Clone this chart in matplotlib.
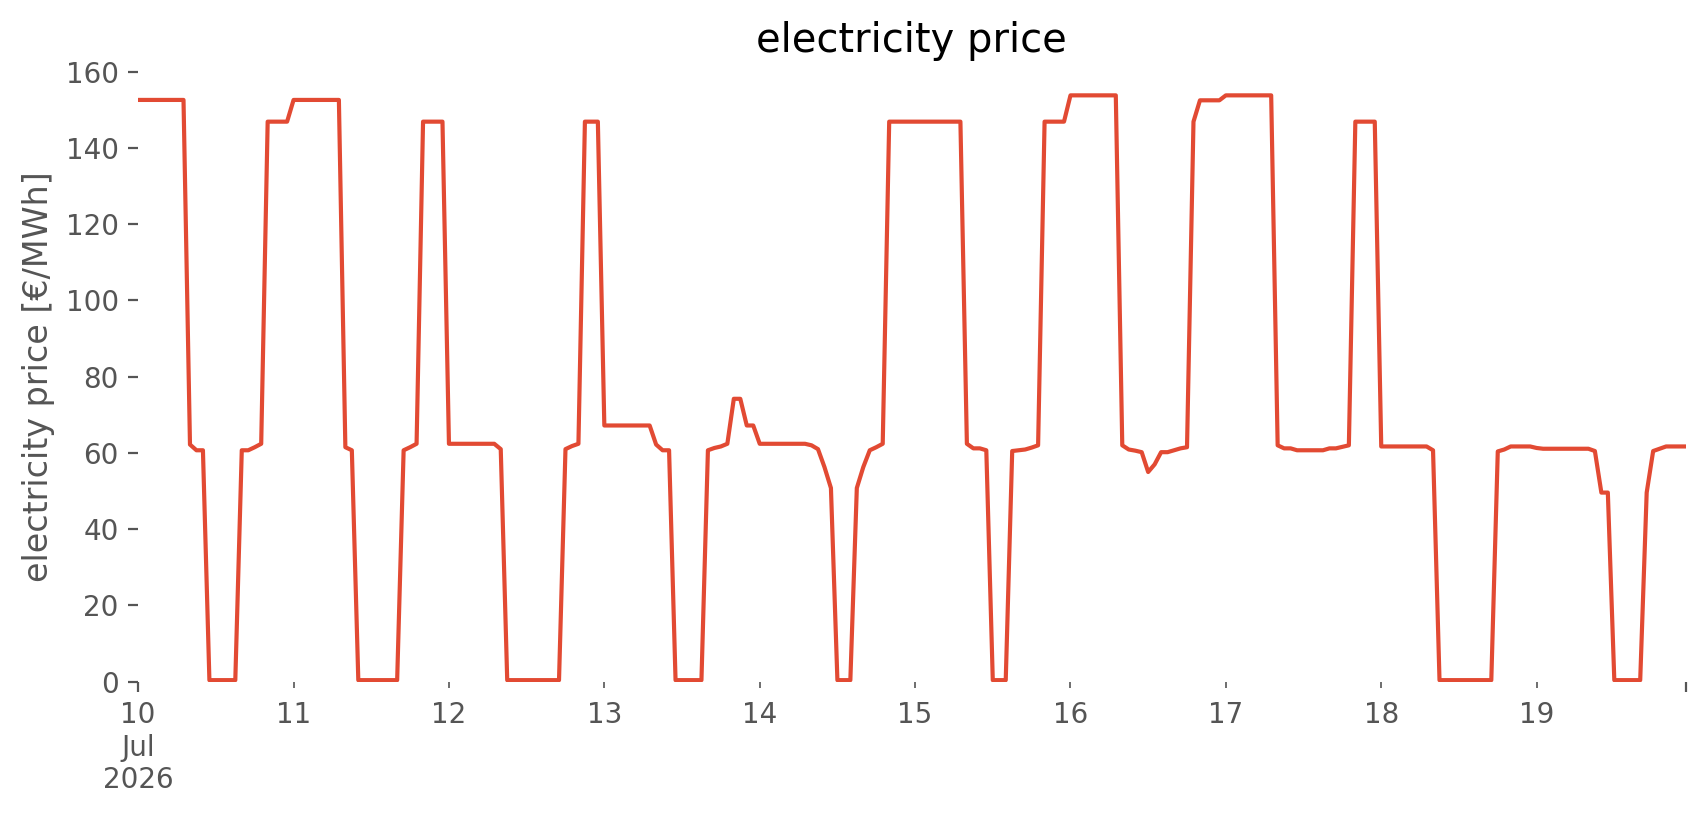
import numpy as np
import pandas as pd
import matplotlib
matplotlib.use("Agg")
import matplotlib.pyplot as plt

# ==========================================
# DATA (hourly electricity price, EUR/MWh)
# ==========================================

start = "2026-07-10 00:00"

day_10 = [152.6, 152.6, 152.6, 152.6, 152.6, 152.6, 152.6, 152.6,
          62.2, 60.7, 60.7, 0.4, 0.4, 0.4, 0.4, 0.4,
          60.7, 60.7, 61.5, 62.4, 146.9, 146.9, 146.9, 146.9]
day_11 = [152.6, 152.6, 152.6, 152.6, 152.6, 152.6, 152.6, 152.6,
          61.5, 60.7, 0.4, 0.4, 0.4, 0.4, 0.4, 0.4,
          0.4, 60.7, 61.5, 62.4, 146.9, 146.9, 146.9, 146.9]
day_12 = [62.4, 62.4, 62.4, 62.4, 62.4, 62.4, 62.4, 62.4,
          61.0, 0.4, 0.4, 0.4, 0.4, 0.4, 0.4, 0.4,
          0.4, 0.4, 61.0, 61.8, 62.4, 146.9, 146.9, 146.9]
day_13 = [67.2, 67.2, 67.2, 67.2, 67.2, 67.2, 67.2, 67.2,
          62.2, 60.7, 60.7, 0.4, 0.4, 0.4, 0.4, 0.4,
          60.7, 61.3, 61.7, 62.4, 74.2, 74.2, 67.2, 67.2]
day_14 = [62.4, 62.4, 62.4, 62.4, 62.4, 62.4, 62.4, 62.4,
          62.0, 61.0, 56.3, 50.8, 0.4, 0.4, 0.4, 50.8,
          56.3, 60.7, 61.5, 62.4, 146.9, 146.9, 146.9, 146.9]
day_15 = [146.9, 146.9, 146.9, 146.9, 146.9, 146.9, 146.9, 146.9,
          62.4, 61.2, 61.2, 60.7, 0.4, 0.4, 0.4, 60.5,
          60.7, 60.9, 61.4, 62.0, 146.9, 146.9, 146.9, 146.9]
day_16 = [153.8, 153.8, 153.8, 153.8, 153.8, 153.8, 153.8, 153.8,
          62.0, 60.9, 60.6, 60.2, 55.0, 57.0, 60.2, 60.2,
          60.7, 61.2, 61.5, 146.9, 152.5, 152.5, 152.5, 152.5]
day_17 = [153.8, 153.8, 153.8, 153.8, 153.8, 153.8, 153.8, 153.8,
          62.0, 61.2, 61.2, 60.7, 60.7, 60.7, 60.7, 60.7,
          61.2, 61.2, 61.6, 62.0, 146.9, 146.9, 146.9, 146.9]
day_18 = [61.7, 61.7, 61.7, 61.7, 61.7, 61.7, 61.7, 61.7,
          60.7, 0.4, 0.4, 0.4, 0.4, 0.4, 0.4, 0.4,
          0.4, 0.4, 60.4, 60.9, 61.7, 61.7, 61.7, 61.7]
day_19 = [61.3, 61.1, 61.1, 61.1, 61.1, 61.1, 61.1, 61.1,
          61.1, 60.5, 49.6, 49.6, 0.4, 0.4, 0.4, 0.4,
          0.4, 49.6, 60.5, 61.1, 61.7, 61.7, 61.7, 61.7]

price = (day_10 + day_11 + day_12 + day_13 + day_14
         + day_15 + day_16 + day_17 + day_18 + day_19)

index = pd.date_range(start, periods=len(price), freq="h")
series = pd.Series(price, index=index, name="electricity price")

day_labels = ["11", "12", "13", "14", "15", "16", "17", "18", "19"]
first_label = "10\nJul\n2026"

# ==========================================
# PLOT
# ==========================================

plt.style.use("ggplot")

fig, ax = plt.subplots(figsize=(8.53, 4.075), dpi=200)
fig.patch.set_facecolor("white")
fig.subplots_adjust(left=0.081, right=0.988, bottom=0.1636, top=0.912)

ax.set_facecolor("white")
ax.grid(False)

ax.plot(series.index, series.values, color="#E24A33", linewidth=1.5)

ax.set_xlim(series.index[0], series.index[-1])
ax.set_ylim(0, 160)
ax.set_yticks(np.arange(0, 161, 20))

# major ticks at both ends, minor ticks at each day
ax.set_xticks([series.index[0], series.index[-1]])
ax.set_xticklabels([first_label, ""])
day_ticks = pd.date_range("2026-07-11", periods=len(day_labels), freq="D")
ax.set_xticks(day_ticks, minor=True)
ax.set_xticklabels(day_labels, minor=True)

ax.tick_params(axis="x", which="major", length=3.5, pad=3.5,
               colors="#555555", labelsize=10)
ax.tick_params(axis="x", which="minor", length=2, pad=5,
               colors="#555555", labelsize=10)
ax.tick_params(axis="y", colors="#555555", labelsize=10)

ax.set_ylabel("electricity price [€/MWh]", fontsize=12, color="#555555")
ax.set_title("electricity price", fontsize=14.4, color="black", pad=7.2)

for spine in ax.spines.values():
    spine.set_visible(False)

fig.savefig("out.png", dpi=200, facecolor="white")
